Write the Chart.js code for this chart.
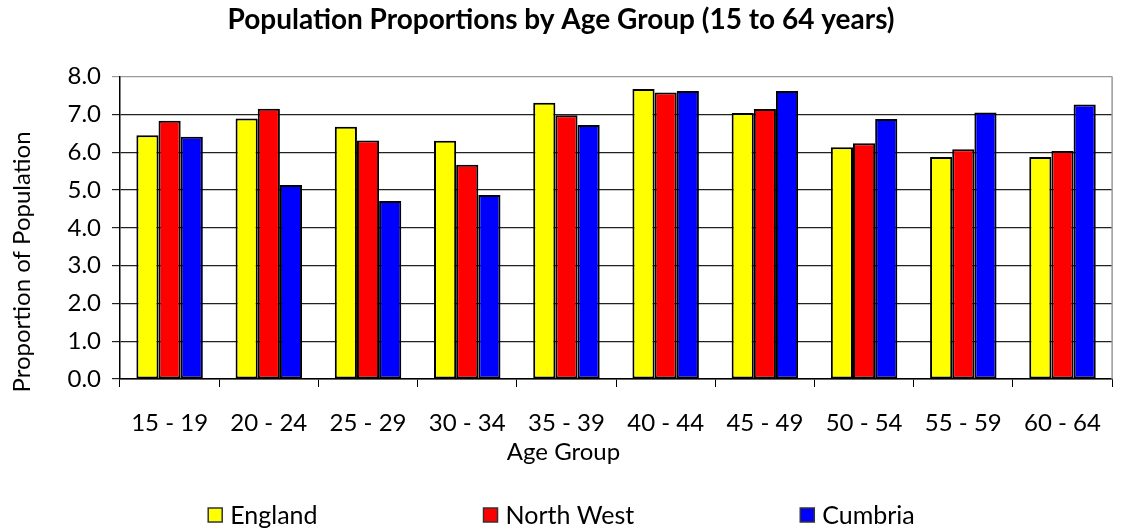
<!DOCTYPE html>
<html>
<head>
<meta charset="utf-8">
<title>Population Proportions by Age Group</title>
<script src="https://cdn.jsdelivr.net/npm/chart.js@4.4.1/dist/chart.umd.min.js"></script>
<style>
  html, body { margin: 0; padding: 0; background: #fff; }
  #wrap { width: 1123px; height: 529px; position: relative; }
</style>
</head>
<body>
<div id="wrap"><canvas id="ageChart" width="1123" height="529"></canvas></div>
<script>
// Values (percent of population).
const ageGroups = ['15 - 19', '20 - 24', '25 - 29', '30 - 34', '35 - 39',
  '40 - 44', '45 - 49', '50 - 54', '55 - 59', '60 - 64'];
const england = [6.45, 6.89, 6.67, 6.30, 7.31, 7.67, 7.04, 6.13, 5.87, 5.87];
const northWest = [6.83, 7.15, 6.31, 5.67, 6.98, 7.58, 7.14, 6.24, 6.08, 6.03];
const cumbria = [6.41, 5.13, 4.71, 4.87, 6.72, 7.62, 7.62, 6.88, 7.05, 7.26];
const yTickMin = 0;
const yTickMax = 8;
const yTickStep = 1;

const FONT = 'Lato';

// Plot frame, axis titles and the spaced-out legend along the bottom.
const chartDecor = {
  id: 'chartDecor',
  beforeDatasetsDraw(chart) {
    const { ctx, chartArea: a } = chart;
    ctx.save();
    ctx.strokeStyle = '#9a9a9a';
    ctx.lineWidth = 1.5;
    ctx.beginPath();
    ctx.moveTo(a.right, a.top);
    ctx.lineTo(a.right, a.bottom);
    ctx.stroke();
    ctx.restore();
  },
  afterDraw(chart) {
    const { ctx } = chart;
    ctx.save();
    ctx.fillStyle = '#000';
    ctx.font = `24px ${FONT}`;
    ctx.textAlign = 'center';
    ctx.textBaseline = 'middle';

    ctx.fillText('Age Group', chart.width / 2 + 2, 452);

    ctx.save();
    ctx.translate(22, 262);
    ctx.rotate(-Math.PI / 2);
    ctx.fillText('Proportion of Population', 0, 0);
    ctx.restore();

    // legend
    ctx.font = `25px ${FONT}`;
    const sets = chart.data.datasets;
    const box = 14;
    const textGap = 8;
    const gap = 166;
    const widths = sets.map(d => box + textGap + ctx.measureText(d.label).width);
    const total = widths.reduce((s, w) => s + w, 0) + gap * (widths.length - 1);
    let x = chart.width / 2 - total / 2;
    const y = 515;
    ctx.textAlign = 'left';
    sets.forEach((d, i) => {
      ctx.fillStyle = d.backgroundColor;
      ctx.fillRect(x, y - box / 2, box, box);
      ctx.strokeStyle = '#333';
      ctx.lineWidth = 1.5;
      ctx.strokeRect(x, y - box / 2, box, box);
      ctx.fillStyle = '#000';
      ctx.fillText(d.label, x + box + textGap, y + 1);
      x += widths[i] + gap;
    });
    ctx.restore();
  }
};

const makeSet = (label, data, color) => ({
  label,
  data,
  backgroundColor: color,
  borderColor: '#000',
  borderWidth: 2,
  borderSkipped: false,
  categoryPercentage: 0.67,
  barPercentage: 1.0
});

const renderChart = () => {
  const canvas = document.getElementById('ageChart');
  if (!canvas || typeof Chart === 'undefined') {
    return;
  }

  Chart.defaults.color = '#000';
  Chart.defaults.font.family = FONT;

  new Chart(canvas, {
    type: 'bar',
    data: {
      labels: ageGroups,
      datasets: [
        makeSet('England', england, '#ffff00'),
        makeSet('North West', northWest, '#ff0000'),
        makeSet('Cumbria', cumbria, '#0000ff')
      ]
    },
    options: {
      responsive: false,
      animation: false,
      layout: { padding: { left: 0, right: 1, top: 0, bottom: 0 } },
      plugins: {
        legend: { display: false },
        tooltip: { enabled: false },
        title: {
          display: true,
          text: 'Population Proportions by Age Group (15 to 64 years)',
          color: '#000',
          font: { family: FONT, size: 28, weight: 'bold' },
          padding: { top: 3, bottom: 40 }
        }
      },
      scales: {
        x: {
          afterFit: (scale) => { scale.height = 150; },
          grid: {
            display: true,
            drawOnChartArea: false,
            tickLength: 8,
            color: '#000',
            lineWidth: 1
          },
          border: { color: '#000', width: 1.5 },
          ticks: {
            font: { size: 24 },
            padding: 22,
            maxRotation: 0,
            autoSkip: false
          }
        },
        y: {
          min: yTickMin,
          max: yTickMax,
          afterFit: (scale) => { scale.width = 120; },
          grid: {
            tickLength: 8,
            lineWidth: 1.2,
            color: (c) => (c.tick && c.tick.value === yTickMax ? '#9a9a9a' : '#222')
          },
          border: { color: '#000', width: 1.5 },
          ticks: {
            stepSize: yTickStep,
            font: { size: 24 },
            padding: 11,
            callback: (v) => Number(v).toFixed(1)
          }
        }
      }
    },
    plugins: [chartDecor]
  });
};

if (document.readyState === 'loading') {
  document.addEventListener('DOMContentLoaded', renderChart);
} else {
  renderChart();
}
</script>
</body>
</html>
